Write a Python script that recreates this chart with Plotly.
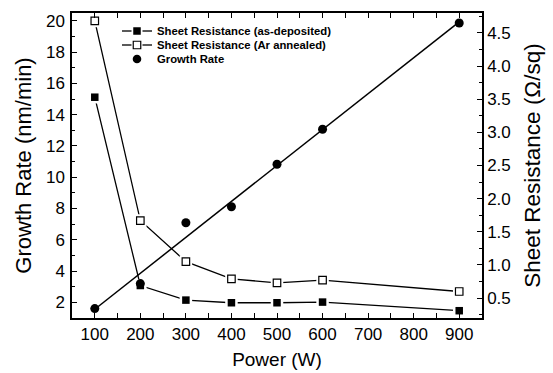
import numpy as np
import plotly.graph_objects as go

# ---- data -------------------------------------------------------------
power = [100, 200, 300, 400, 500, 600, 900]                     # W
growth_rate = [1.60, 3.20, 7.09, 8.11, 10.83, 13.07, 19.86]     # nm/min
rs_as_deposited = [3.53, 0.69, 0.47, 0.43, 0.43, 0.44, 0.31]    # ohm/sq
rs_ar_annealed = [4.68, 1.67, 1.05, 0.79, 0.73, 0.77, 0.60]     # ohm/sq

x_ticks = [100, 200, 300, 400, 500, 600, 700, 800, 900]
gr_ticks = [2, 4, 6, 8, 10, 12, 14, 16, 18, 20]
rs_ticks = [0.5, 1.0, 1.5, 2.0, 2.5, 3.0, 3.5, 4.0, 4.5]

legend_labels = ["Sheet Resistance (as-deposited)",
                 "Sheet Resistance (Ar annealed)",
                 "Growth Rate"]

# linear fit of growth rate vs power
slope, intercept = np.polyfit(power, growth_rate, 1)
fit_x = np.array([min(power), max(power)], dtype=float)
fit_y = slope * fit_x + intercept

# ---- page geometry ----------------------------------------------------
W, H = 553, 373
L, R, T, B = 72, 482, 13, 318
FONT = "Liberation Sans, Arial, Helvetica, sans-serif"
BLACK = "#000000"


def px_x(px):
    return (px - L) / (R - L)


def px_y(py):
    return (B - py) / (B - T)


fig = go.Figure()

# sheet resistance lines (right axis, primary y)
for vals in (rs_as_deposited, rs_ar_annealed):
    fig.add_trace(go.Scatter(x=power, y=vals, mode="lines", yaxis="y",
                             line=dict(color=BLACK, width=1.3),
                             showlegend=False, hoverinfo="skip"))

# white halos leave a small gap between the lines and the square symbols
for vals in (rs_as_deposited, rs_ar_annealed):
    fig.add_trace(go.Scatter(x=power, y=vals, mode="markers", yaxis="y",
                             marker=dict(symbol="square", size=12.5, color="white",
                                         line=dict(width=0)),
                             showlegend=False, hoverinfo="skip"))

fig.add_trace(go.Scatter(x=power, y=rs_as_deposited, mode="markers", yaxis="y",
                         name=legend_labels[0],
                         marker=dict(symbol="square", size=7.5, color=BLACK,
                                     line=dict(width=0)),
                         showlegend=False))
fig.add_trace(go.Scatter(x=power, y=rs_ar_annealed, mode="markers", yaxis="y",
                         name=legend_labels[1],
                         marker=dict(symbol="square", size=7.5, color="white",
                                     line=dict(color=BLACK, width=1.2)),
                         showlegend=False))

# growth rate with its linear fit (left axis, y2)
fig.add_trace(go.Scatter(x=fit_x, y=fit_y, mode="lines", yaxis="y2",
                         line=dict(color=BLACK, width=1.5),
                         showlegend=False, hoverinfo="skip"))
fig.add_trace(go.Scatter(x=power, y=growth_rate, mode="markers", yaxis="y2",
                         name=legend_labels[2],
                         marker=dict(symbol="circle", size=9, color=BLACK),
                         showlegend=False))

# ---- legend (drawn in paper space) --------------------------------------
shapes = []
annotations = []
row_y = [31, 45, 59]
sample_x0, sample_x1, sym_x, text_x = 122, 152, 137, 155
for i, label in enumerate(legend_labels):
    yy = px_y(row_y[i])
    if i < 2:
        shapes.append(dict(type="line", xref="paper", yref="paper",
                           x0=px_x(sample_x0), x1=px_x(sample_x1), y0=yy, y1=yy,
                           line=dict(color=BLACK, width=1.3)))
        shapes.append(dict(type="rect", xref="paper", yref="paper",
                           xsizemode="pixel", ysizemode="pixel",
                           xanchor=px_x(sym_x), yanchor=yy,
                           x0=-5.5, x1=5.5, y0=-5.5, y1=5.5,
                           fillcolor="white", line=dict(width=0)))
        shapes.append(dict(type="rect", xref="paper", yref="paper",
                           xsizemode="pixel", ysizemode="pixel",
                           xanchor=px_x(sym_x), yanchor=yy,
                           x0=-3.75, x1=3.75, y0=-3.75, y1=3.75,
                           fillcolor=BLACK if i == 0 else "white",
                           line=dict(color=BLACK, width=0 if i == 0 else 1.2)))
    else:
        shapes.append(dict(type="circle", xref="paper", yref="paper",
                           xsizemode="pixel", ysizemode="pixel",
                           xanchor=px_x(sym_x), yanchor=yy,
                           x0=-4.3, x1=4.3, y0=-4.3, y1=4.3,
                           fillcolor=BLACK, line=dict(width=0)))
    annotations.append(dict(text=label, xref="paper", yref="paper",
                            x=px_x(text_x), y=yy, xanchor="left", yanchor="middle",
                            showarrow=False,
                            font=dict(family=FONT, size=11.3, color=BLACK,
                                      weight="bold")))

axis_common = dict(showline=True, linecolor=BLACK, linewidth=1.5,
                   showgrid=False, zeroline=False,
                   ticks="inside", ticklen=5.5, tickwidth=1.3, tickcolor=BLACK,
                   tickfont=dict(family=FONT, size=17, color=BLACK),
                   automargin=False)

fig.update_layout(
    width=W, height=H,
    margin=dict(l=L, r=W - R, t=T, b=H - B, pad=0),
    paper_bgcolor="white", plot_bgcolor="white",
    font=dict(family=FONT, color=BLACK),
    showlegend=False,
    xaxis=dict(**axis_common, range=[50, 950], tickvals=x_ticks,
               mirror="allticks",
               minor=dict(ticks="inside", ticklen=3, tickwidth=1.2,
                          tickcolor=BLACK, dtick=50, tick0=50),
               title=dict(text="Power (W)", standoff=10,
                          font=dict(family=FONT, size=19, color=BLACK))),
    yaxis=dict(**axis_common, side="right", range=[0.2, 4.8],
               tickvals=rs_ticks, tickformat=".1f",
               minor=dict(ticks="inside", ticklen=3, tickwidth=1.2,
                          tickcolor=BLACK, dtick=0.25, tick0=0.25),
               title=dict(text="Sheet Resistance (Ω/sq)", standoff=14,
                          font=dict(family=FONT, size=22.5, color=BLACK))),
    yaxis2=dict(**axis_common, side="left", overlaying="y", range=[1, 20.5],
                tickvals=gr_ticks, ticklabelstandoff=2,
                minor=dict(ticks="inside", ticklen=3, tickwidth=1.2,
                           tickcolor=BLACK, dtick=1, tick0=1),
                title=dict(text="Growth Rate (nm/min)", standoff=8,
                           font=dict(family=FONT, size=22, color=BLACK))),
    shapes=shapes,
    annotations=annotations,
)

fig.write_html("out.html")
